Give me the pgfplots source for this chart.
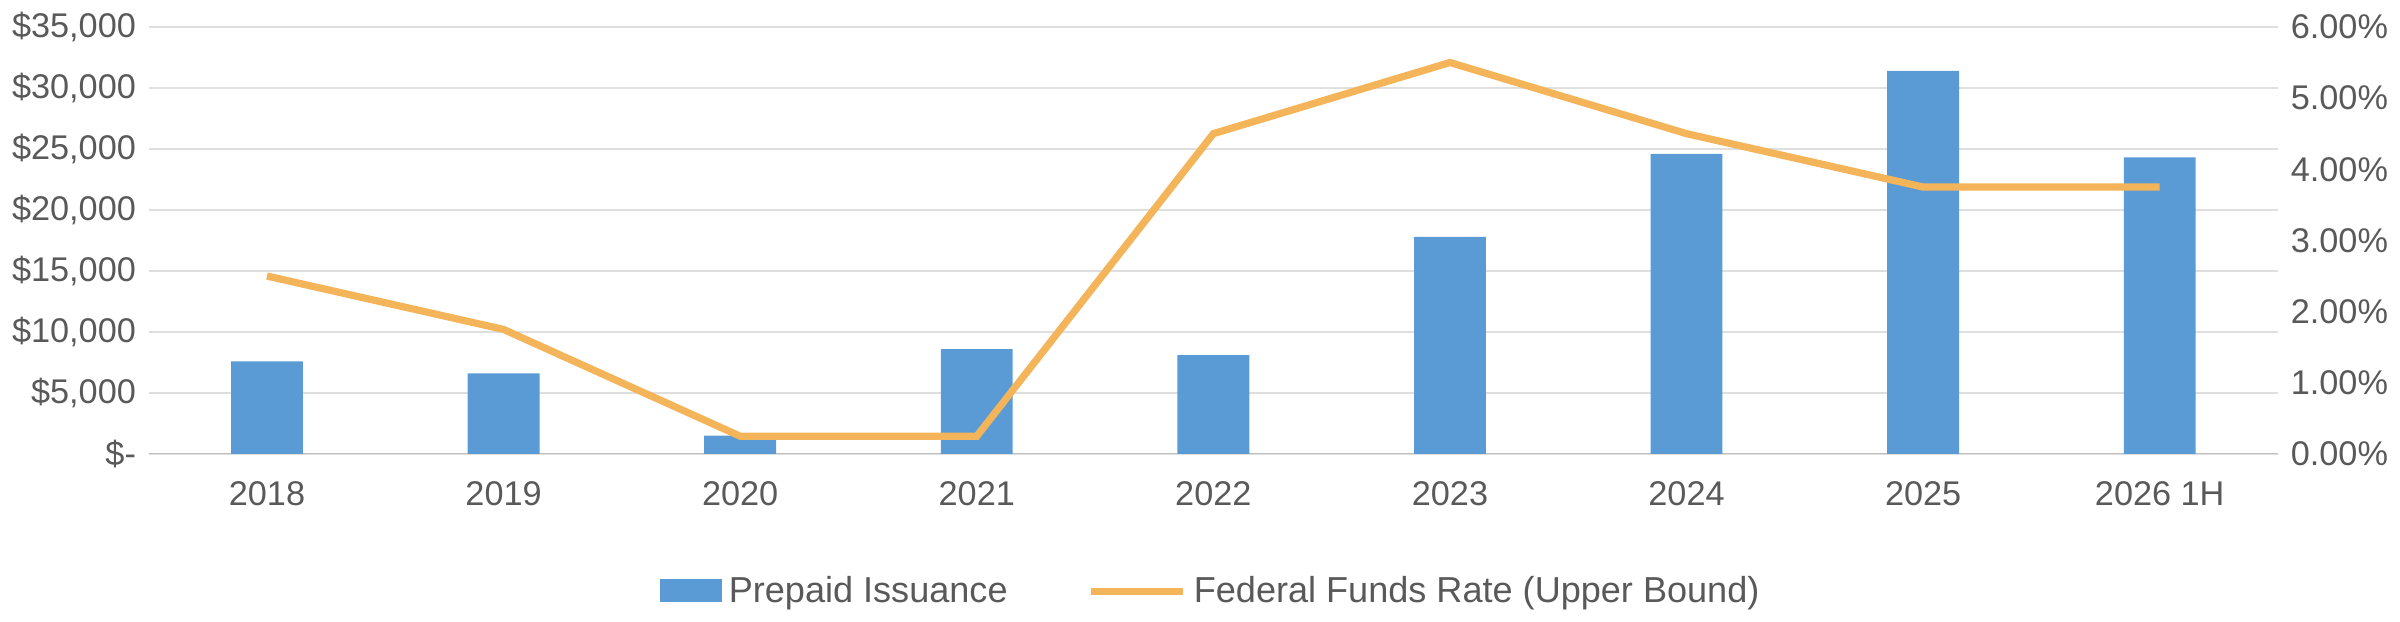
\documentclass[border=0pt]{standalone}
\usepackage{pgfplots}
\pgfplotsset{compat=1.18}
\usepackage{fontspec}
\setmainfont{Liberation Sans}
\definecolor{barb}{HTML}{5B9BD5}
\definecolor{lineo}{HTML}{F4B459}
\definecolor{txt}{HTML}{595959}
\begin{document}
\begin{tikzpicture}
\pgfplotsset{every axis/.append style={scale only axis, width=20.74cm, height=4.16cm, xmin=-0.5, xmax=8.5,
  scaled ticks=false,
  tick style={draw=none}, ticklabel style={font=\fontsize{9.5}{11}\selectfont, text=txt}}}
\begin{axis}[
  at={(1.84cm,1.51cm)}, anchor=south west,
  ymin=0, ymax=35000, ytick={0,5000,...,35000},
  yticklabels={{\$-},{\$5,000},{\$10,000},{\$15,000},{\$20,000},{\$25,000},{\$30,000},{\$35,000}},
  ymajorgrids, grid style={draw=gray!25},
  axis line style={draw=none},
  xtick={0,...,8}, xticklabels={2018,2019,2020,2021,2022,2023,2024,2025,2026 1H},
  xticklabel style={yshift=-4pt},
  legend style={at={(0.5,-0.25)}, anchor=north, draw=none, legend columns=2,
    font=\fontsize{10}{12}\selectfont\color{txt}, /tikz/every even column/.append style={column sep=20pt}},
  legend image code/.code={\fill[#1] (0cm,-0.1cm) rectangle (0.6cm,0.12cm);},
]
\draw[gray!50] (axis cs:-0.5,0) -- (axis cs:8.5,0);
\addplot[ybar, bar width=0.7cm, fill=barb, draw=none] coordinates {
(0,7600) (1,6600) (2,1500) (3,8600) (4,8100) (5,17800) (6,24600) (7,31400) (8,24300)};
\addlegendentry{Prepaid Issuance}
\addlegendimage{legend image code/.code={\draw[lineo, line width=2pt] (0cm,0cm) -- (0.9cm,0cm);}}
\addlegendentry{Federal Funds Rate (Upper Bound)}
\end{axis}
\begin{axis}[
  at={(1.84cm,1.51cm)}, anchor=south west,
  ymin=0, ymax=6, ytick={0,1,...,6},
  yticklabels={0.00\%,1.00\%,2.00\%,3.00\%,4.00\%,5.00\%,6.00\%},
  axis y line*=right, axis x line=none, axis line style={draw=none},
]
\addplot[lineo, line width=2pt] coordinates {
(0,2.5) (1,1.75) (2,0.25) (3,0.25) (4,4.5) (5,5.5) (6,4.5) (7,3.75) (8,3.75)};
\end{axis}
\end{tikzpicture}
\end{document}
